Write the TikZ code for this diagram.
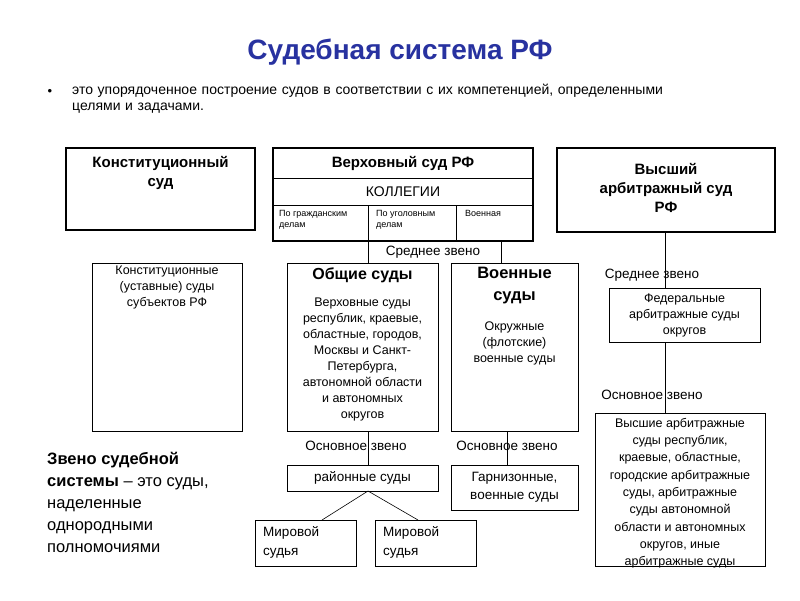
\documentclass[tikz,border=0pt]{standalone}
\usepackage{fontspec}
\setmainfont{Liberation Sans}
\begin{document}
\begin{tikzpicture}[x=1pt,y=-1pt,
  thk/.style={draw,line width=1.6pt},
  thn/.style={draw,line width=0.6pt},
  tl/.style={align=center,font=\fontsize{12.5}{16}\selectfont,inner sep=0pt},
  bt/.style={align=center,font=\bfseries\fontsize{15}{19}\selectfont,inner sep=0pt},
  ln/.style={line width=0.6pt}]
\useasboundingbox (0,0) rectangle (800,600);
\fill[white] (0,0) rectangle (800,600);
\node[font=\bfseries\fontsize{28}{32}\selectfont,text={rgb,255:red,40;green,50;blue,160}] (title) at (400,52) {Судебная система РФ};
\node[anchor=north west,inner sep=0pt,font=\fontsize{14}{16}\selectfont,align=left,text width=650pt] (bul) at (72,84) {это упорядоченное построение судов в соответствии с их компетенцией, определенными\\целями и задачами.};
\node[inner sep=0pt] (dot) at (50,92) {\fontsize{13}{15}\selectfont •};
% top row
\draw[thk] (66,148) rectangle (255,230); \node[bt] (ks) at (160.5,173) {Конституционный\\суд};
\draw[thk] (273,148) rectangle (533,241);
\draw[thn] (273,178) -- (533,178); \draw[thn] (273,205) -- (533,205);
\draw[thn] (368,205) -- (368,241); \draw[thn] (456,205) -- (456,241);
\node[bt] (vs) at (403,163) {Верховный суд РФ};
\node[font=\fontsize{14}{16}\selectfont] (kol) at (403,192) {КОЛЛЕГИИ};
\node[anchor=north west,align=left,inner sep=0pt,font=\fontsize{9}{11}\selectfont] (g1) at (279,210) {По гражданским\\делам};
\node[anchor=north west,align=left,inner sep=0pt,font=\fontsize{9}{11}\selectfont] (g2) at (376,210) {По уголовным\\делам};
\node[anchor=north west,align=left,inner sep=0pt,font=\fontsize{9}{11}\selectfont] (g3) at (465,210) {Военная};
\draw[thk] (557,148) rectangle (775,232); \node[bt] (vas) at (666,188) {Высший\\арбитражный суд\\РФ};
% second row
\draw[thn] (92,263) rectangle (242,431); \node[tl,anchor=north] (kus) at (167,266) {Конституционные\\(уставные) суды\\субъектов РФ};
\draw[thn] (287,263) rectangle (438,431);
\node[bt,anchor=north,font=\bfseries\fontsize{16}{19}\selectfont] (os) at (362.5,268) {Общие суды};
\node[tl,anchor=north] (ost) at (362.5,298) {Верховные суды\\республик, краевые,\\областные, городов,\\Москвы и Санкт-\\Петербурга,\\автономной области\\и автономных\\округов};
\draw[thn] (451,263) rectangle (578,431);
\node[bt,anchor=north,font=\bfseries\fontsize{16.5}{22}\selectfont] (vms) at (514.5,267) {Военные\\суды};
\node[tl,anchor=north] (vmt) at (514.5,322) {Окружные\\(флотские)\\военные суды};
\draw[thn] (609,288) rectangle (760,342); \node[tl] (fas) at (684.5,315) {Федеральные\\арбитражные суды\\округов};
\draw[thn] (595,413) rectangle (765,566); \node[tl,anchor=north,font=\fontsize{12.5}{17.3}\selectfont] (vas2) at (680,418) {Высшие арбитражные\\суды республик,\\краевые, областные,\\городские арбитражные\\суды, арбитражные\\суды автономной\\области и автономных\\округов, иные\\арбитражные суды};
% bottom
\draw[thn] (287,465) rectangle (438,491); \node[font=\fontsize{13.5}{15}\selectfont] (rs) at (362.5,478) {районные суды};
\draw[thn] (451,465) rectangle (578,510); \node[align=center,font=\fontsize{13.5}{18}\selectfont] (gs) at (514.5,487.5) {Гарнизонные,\\военные суды};
\draw[thn] (255,520) rectangle (356,566); \node[anchor=north west,align=left,inner sep=0pt,font=\fontsize{13.5}{19}\selectfont] (m1) at (263,526) {Мировой\\судья};
\draw[thn] (375,520) rectangle (476,566); \node[anchor=north west,align=left,inner sep=0pt,font=\fontsize{13.5}{19}\selectfont] (m2) at (383,526) {Мировой\\судья};
% connectors
\draw[ln] (368,241) -- (368,263); \draw[ln] (501,241) -- (501,263);
\draw[ln] (368,431) -- (368,465); \draw[ln] (507,431) -- (507,465);
\draw[ln] (368,491) -- (322,520); \draw[ln] (368,491) -- (418,520);
\draw[ln] (665,232) -- (665,288); \draw[ln] (665,342) -- (665,413);
% labels
\node[fill=white,inner sep=1pt,font=\fontsize{13.5}{15}\selectfont] (l1) at (433,252) {Среднее звено};
\node[inner sep=1pt,font=\fontsize{13.5}{15}\selectfont] (l2) at (652,275) {Среднее звено};
\node[inner sep=1pt,font=\fontsize{13.5}{15}\selectfont] (l3) at (652,395) {Основное звено};
\node[inner sep=1pt,font=\fontsize{13.5}{15}\selectfont] (l4) at (356,446) {Основное звено};
\node[inner sep=1pt,font=\fontsize{13.5}{15}\selectfont] (l5) at (507,446) {Основное звено};
\node[anchor=north west,align=left,inner sep=0pt,font=\fontsize{16.5}{22}\selectfont] (zv) at (47,452) {\textbf{Звено судебной}\\\textbf{системы} – это суды,\\наделенные\\однородными\\полномочиями};
\end{tikzpicture}
\end{document}
